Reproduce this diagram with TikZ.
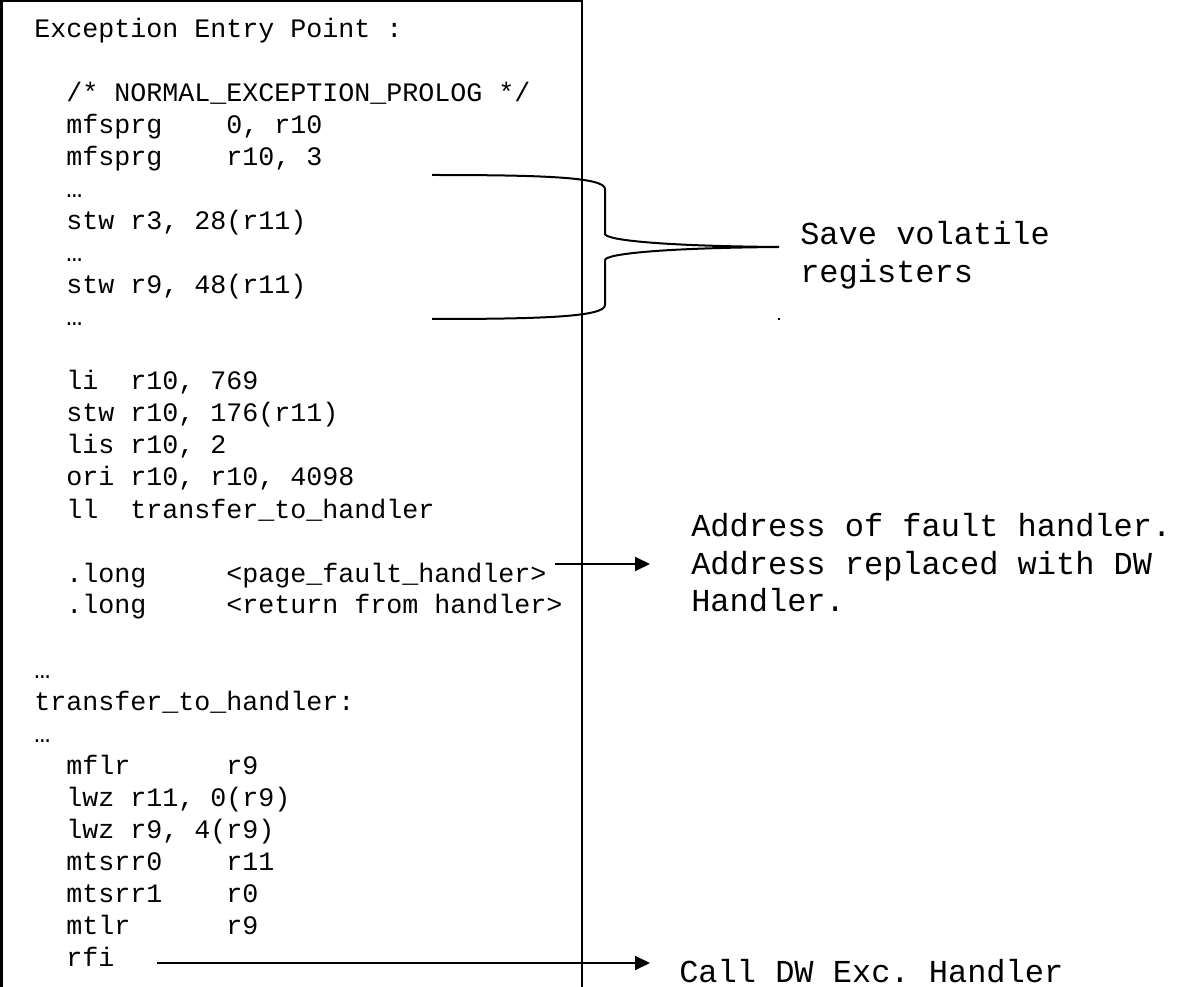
\documentclass[tikz,border=0pt]{standalone}
\usepackage{fontspec}
\usetikzlibrary{arrows.meta}
\newfontfamily\monofont{Liberation Mono}
\newcommand\codesize{\fontsize{20pt}{24pt}\selectfont\frenchspacing}
\newcommand\notesize{\fontsize{24pt}{28pt}\selectfont\frenchspacing}
% horizontal gap of #1 character cells of the monospaced font
\newcommand\colgap[1]{\hspace*{#1\dimexpr 0.6em\relax}}
\tikzset{
  code/.style={anchor=base west, inner sep=0pt, font=\monofont\codesize},
  note/.style={anchor=base west, inner sep=0pt, font=\monofont\notesize},
  frame/.style={line width=1.5pt},
  pointer/.style={line width=1.5pt, -{Triangle[length=11.25pt,width=10.5pt]}},
  bracket/.style={line width=1.5pt}
}
\begin{document}
\begin{tikzpicture}[x=0.75pt,y=-0.75pt]
\useasboundingbox (0,0) rectangle (1193,987);

% listing frame, open at the bottom
\coordinate (frameBL) at (1.5,990);
\coordinate (frameTL) at (1.5,1.5);
\coordinate (frameTR) at (582,1.5);
\coordinate (frameBR) at (582,990);
\draw[frame] (frameBL) -- (frameTL) -- (frameTR) -- (frameBR);

% assembly listing (baseline of line n at 38 + 32(n-1))
\node[code] (l01) at (34,38)  {Exception Entry Point :};
\node[code] (l03) at (66,102) {/* NORMAL\_EXCEPTION\_PROLOG */};
\node[code] (l04) at (66,134) {mfsprg\colgap{4}0, r10};
\node[code] (l05) at (66,166) {mfsprg\colgap{4}r10, 3};
\node[code] (l06) at (66,198) {…};
\node[code] (l07) at (66,230) {stw r3, 28(r11)};
\node[code] (l08) at (66,262) {…};
\node[code] (l09) at (66,294) {stw r9, 48(r11)};
\node[code] (l10) at (66,326) {…};
\node[code] (l12) at (66,390) {li\colgap{2}r10, 769};
\node[code] (l13) at (66,422) {stw r10, 176(r11)};
\node[code] (l14) at (66,454) {lis r10, 2};
\node[code] (l15) at (66,486) {ori r10, r10, 4098};
\node[code] (l16) at (66,518) {ll\colgap{2}transfer\_to\_handler};
\node[code] (l18) at (66,582) {.long\colgap{5}<page\_fault\_handler>};
\node[code] (l19) at (66,614) {.long\colgap{5}<return from handler>};
\node[code] (l21) at (34,678) {…};
\node[code] (l22) at (34,710) {transfer\_to\_handler:};
\node[code] (l23) at (34,742) {…};
\node[code] (l24) at (66,774) {mflr\colgap{6}r9};
\node[code] (l25) at (66,806) {lwz r11, 0(r9)};
\node[code] (l26) at (66,838) {lwz r9, 4(r9)};
\node[code] (l27) at (66,870) {mtsrr0\colgap{4}r11};
\node[code] (l28) at (66,902) {mtsrr1\colgap{4}r0};
\node[code] (l29) at (66,934) {mtlr\colgap{6}r9};
\node[code] (l30) at (66,966) {rfi};

% annotations
\node[note] (save1) at (800,245) {Save volatile};
\node[note] (save2) at (800,283) {registers};
\node[note] (addr1) at (691,537) {Address of fault handler.};
\node[note] (addr2) at (691,574) {Address replaced with DW};
\node[note] (addr3) at (691,611) {Handler.};
\node[note] (call)  at (679,982) {Call DW Exc. Handler};

% brace grouping the register saves
\coordinate (braceTop) at (432,175);
\coordinate (braceBot) at (432,319);
\coordinate (braceTip) at (779,247);
\draw[bracket] (braceTop) .. controls (540,175) and (605,177) .. (605,189)
  -- (605,234) .. controls (606,240) and (660,246) .. (braceTip)
  .. controls (660,248) and (606,254) .. (605,260)
  -- (605,305) .. controls (605,317) and (540,319) .. (braceBot);
\fill (778.4,318) rectangle (779.6,320);

% pointers
\coordinate (pfTail) at (555,564);
\coordinate (pfHead) at (650,564);
\draw[pointer] (pfTail) -- (pfHead);
\coordinate (rfiTail) at (157,963);
\coordinate (rfiHead) at (650,963);
\draw[pointer] (rfiTail) -- (rfiHead);
\end{tikzpicture}
\end{document}
